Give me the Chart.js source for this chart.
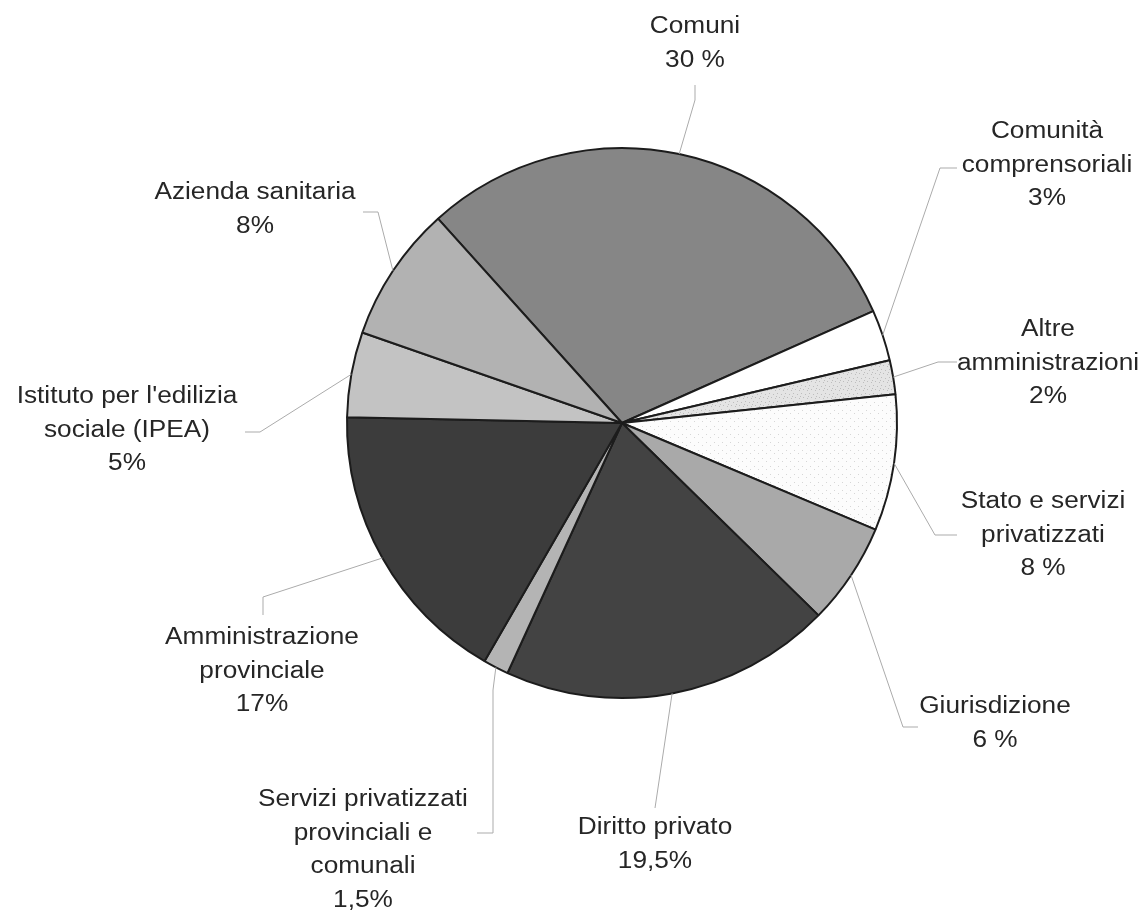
<!DOCTYPE html>
<html>
<head>
<meta charset="utf-8">
<script src="https://cdn.jsdelivr.net/npm/chart.js@4.4.1/dist/chart.umd.min.js"></script>
<style>
  html, body { margin: 0; padding: 0; background: #ffffff; }
  #wrap { width: 1146px; height: 911px; position: relative; }
</style>
</head>
<body>
<div id="wrap"><canvas id="pie"></canvas></div>
<script>
// Categories (multi-line labels) and their shares, in drawing order (clockwise from Comuni)
const categories = [
  ["Comuni"],
  ["Comunità", "comprensoriali"],
  ["Altre", "amministrazioni"],
  ["Stato e servizi", "privatizzati"],
  ["Giurisdizione"],
  ["Diritto privato"],
  ["Servizi privatizzati", "provinciali e", "comunali"],
  ["Amministrazione", "provinciale"],
  ["Istituto per l'edilizia", "sociale (IPEA)"],
  ["Azienda sanitaria"]
];
const shares = [30, 3, 2, 8, 6, 19.5, 1.5, 17, 5, 8];
const percentSuffix = [" %", "%", "%", " %", " %", "%", "%", "%", "%", "%"];

// Slice fills
function dotted(base, dot, spots) {
  const c = document.createElement("canvas");
  c.width = 8; c.height = 8;
  const g = c.getContext("2d");
  g.fillStyle = base; g.fillRect(0, 0, 8, 8);
  g.fillStyle = dot;
  spots.forEach(([x, y]) => g.fillRect(x, y, 1, 1));
  return g.createPattern(c, "repeat");
}
const sliceColors = [
  "#868686",
  "#ffffff",
  dotted("#e4e4e4", "#bdbdbd", [[1, 1], [5, 2], [3, 5], [7, 6], [0, 4]]),
  dotted("#fcfcfc", "#d6d6d6", [[2, 2], [6, 5]]),
  "#a9a9a9",
  "#434343",
  "#b4b4b4",
  "#3c3c3c",
  "#c3c3c3",
  "#b2b2b2"
];

// Label placement: text centre (first line) and leader elbow points
const labelLayout = [
  { x: 695,  y: 27,  path: [[695, 85], [695, 100]] },
  { x: 1047, y: 132, path: [[957, 168], [940, 168]] },
  { x: 1048, y: 330, path: [[957, 362], [938, 362]] },
  { x: 1043, y: 502, path: [[957, 535], [935, 535]] },
  { x: 995,  y: 707, path: [[918, 727], [903, 727]] },
  { x: 655,  y: 828, path: [[655, 808]] },
  { x: 363,  y: 800, path: [[477, 833], [493, 833], [493, 690]] },
  { x: 262,  y: 638, path: [[263, 615], [263, 597]] },
  { x: 127,  y: 397, path: [[245, 432], [260, 432]] },
  { x: 255,  y: 193, path: [[363, 212], [378, 212]] }
];
const lineHeight = 33.5;

const calloutPlugin = {
  id: "callouts",
  afterDatasetsDraw(chart) {
    const ctx = chart.ctx;
    const meta = chart.getDatasetMeta(0);
    const values = chart.data.datasets[0].data;
    ctx.save();
    meta.data.forEach((arc, i) => {
      const p = arc.getProps(["x", "y", "startAngle", "endAngle", "outerRadius"], true);
      const mid = (p.startAngle + p.endAngle) / 2;
      const ex = p.x + Math.cos(mid) * p.outerRadius;
      const ey = p.y + Math.sin(mid) * p.outerRadius;
      const lay = labelLayout[i];

      // leader line
      ctx.strokeStyle = "#ababab";
      ctx.lineWidth = 1;
      ctx.beginPath();
      lay.path.forEach(([px, py], k) => (k === 0 ? ctx.moveTo(px, py) : ctx.lineTo(px, py)));
      ctx.lineTo(ex, ey);
      ctx.stroke();

      // label text
      const lines = chart.data.labels[i].concat([String(values[i]).replace(".", ",") + percentSuffix[i]]);
      ctx.fillStyle = "#262626";
      ctx.font = "23px 'Liberation Sans', Arial, sans-serif";
      ctx.textAlign = "center";
      ctx.textBaseline = "middle";
      lines.forEach((t, k) => {
        ctx.save();
        ctx.translate(lay.x, lay.y + k * lineHeight);
        ctx.scale(1.14, 1);
        ctx.fillText(t, 0, 0);
        ctx.restore();
      });
    });
    ctx.restore();
  }
};

new Chart(document.getElementById("pie"), {
  type: "pie",
  data: {
    labels: categories,
    datasets: [{
      data: shares,
      backgroundColor: sliceColors,
      borderColor: "#1c1c1c",
      borderWidth: 2
    }]
  },
  options: {
    responsive: true,
    maintainAspectRatio: false,
    animation: false,
    rotation: -42,
    radius: 275,
    layout: { padding: { left: 100, right: 2, top: 0, bottom: 65 } },
    plugins: {
      legend: { display: false },
      tooltip: { enabled: false }
    },
    events: []
  },
  plugins: [calloutPlugin]
});
</script>
</body>
</html>
